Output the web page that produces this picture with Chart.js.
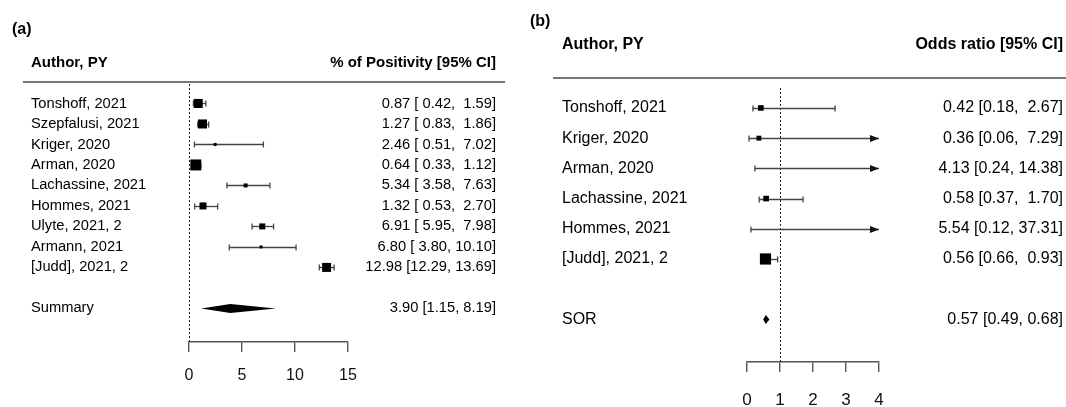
<!DOCTYPE html>
<html>
<head>
<meta charset="utf-8">
<script src="https://cdn.jsdelivr.net/npm/chart.js@4.4.1/dist/chart.umd.min.js"></script>
<style>
  html, body { margin: 0; padding: 0; background: #fff; }
  #wrap { position: relative; width: 1066px; height: 407px; }
  canvas { position: absolute; top: 0; }
</style>
</head>
<body>
<div id="wrap">
  <canvas id="chartA" width="520" height="407" style="left:0px"></canvas>
  <canvas id="chartB" width="536" height="407" style="left:530px"></canvas>
</div>
<script>
// ---- panel (a): % of positivity ----
const studiesA = ['Tonshoff, 2021', 'Szepfalusi, 2021', 'Kriger, 2020', 'Arman, 2020', 'Lachassine, 2021',
                  'Hommes, 2021', 'Ulyte, 2021, 2', 'Armann, 2021', '[Judd], 2021, 2'];
const estA  = [0.87, 1.27, 2.46, 0.64, 5.34, 1.32, 6.91, 6.80, 12.98];
const lowA  = [0.42, 0.83, 0.51, 0.33, 3.58, 0.53, 5.95, 3.80, 12.29];
const highA = [1.59, 1.86, 7.02, 1.12, 7.63, 2.70, 7.98, 10.10, 13.69];
const weightsA = [12.9, 12.9, 4.3, 15.7, 5.7, 10.0, 8.6, 4.3, 12.9];   // relative study weight (box size)
const summaryA = { label: 'Summary', est: 3.90, lo: 1.15, hi: 8.19 };
const ticksA = [0, 5, 10, 15];

// ---- panel (b): odds ratio ----
const studiesB = ['Tonshoff, 2021', 'Kriger, 2020', 'Arman, 2020', 'Lachassine, 2021', 'Hommes, 2021', '[Judd], 2021, 2'];
const estB  = [0.42, 0.36, 4.13, 0.58, 5.54, 0.56];
const lowB  = [0.18, 0.06, 0.24, 0.37, 0.12, 0.66];
const highB = [2.67, 7.29, 14.38, 1.70, 37.31, 0.93];
const weightsB = [8.0, 7.0, 3.0, 8.0, 3.0, 16.0];
const summaryB = { label: 'SOR', est: 0.57, lo: 0.49, hi: 0.68 };
const ticksB = [0, 1, 2, 3, 4];

const FONT = "'Liberation Sans', Arial, sans-serif";

function ciText(e, l, h, wl, wh) {
  return e.toFixed(2) + ' [' + l.toFixed(2).padStart(wl) + ', ' + h.toFixed(2).padStart(wh) + ']';
}

const forestPlugin = {
  id: 'forest',
  beforeDatasetsDraw(chart, args, o) {
    const ctx = chart.ctx, x = chart.scales.x, y = chart.scales.y, area = chart.chartArea;
    ctx.save();
    // reference line
    ctx.strokeStyle = '#222';
    ctx.lineWidth = 1;
    ctx.setLineDash([2, 2]);
    const rx = Math.round(x.getPixelForValue(o.ref)) + 0.5;
    ctx.beginPath(); ctx.moveTo(rx, area.top); ctx.lineTo(rx, area.bottom); ctx.stroke();
    ctx.setLineDash([]);
    // confidence intervals
    ctx.strokeStyle = '#444';
    ctx.fillStyle = '#111';
    ctx.lineWidth = 1.3;
    o.low.forEach((l, i) => {
      const h = o.high[i];
      const py = Math.round(y.getPixelForValue(i)) + 0.5;
      const x1 = x.getPixelForValue(Math.max(l, x.min));
      const x2 = x.getPixelForValue(Math.min(h, x.max));
      ctx.beginPath(); ctx.moveTo(x1, py); ctx.lineTo(x2, py); ctx.stroke();
      ctx.beginPath(); ctx.moveTo(x1, py - 3); ctx.lineTo(x1, py + 3); ctx.stroke();
      if (h > x.max) {
        ctx.beginPath();
        ctx.moveTo(x2 - 9, py - 3.5); ctx.lineTo(x2, py); ctx.lineTo(x2 - 9, py + 3.5);
        ctx.closePath(); ctx.fill();
      } else {
        ctx.beginPath(); ctx.moveTo(x2, py - 3); ctx.lineTo(x2, py + 3); ctx.stroke();
      }
    });
    // summary diamond
    const s = o.summary, sy = y.getPixelForValue(o.summaryRow);
    ctx.fillStyle = '#000';
    ctx.beginPath();
    ctx.moveTo(x.getPixelForValue(s.lo), sy);
    ctx.lineTo(x.getPixelForValue(s.est), sy - o.diamondH);
    ctx.lineTo(x.getPixelForValue(s.hi), sy);
    ctx.lineTo(x.getPixelForValue(s.est), sy + o.diamondH);
    ctx.closePath(); ctx.fill();
    ctx.restore();
  },
  afterDraw(chart, args, o) {
    const ctx = chart.ctx, y = chart.scales.y;
    ctx.save();
    ctx.fillStyle = '#000';
    ctx.textBaseline = 'middle';
    // panel tag
    ctx.font = 'bold 16px ' + FONT;
    ctx.textAlign = 'left';
    ctx.fillText(o.tag, o.tagX, o.tagY);
    // headers
    ctx.font = 'bold ' + o.headSize + 'px ' + FONT;
    ctx.fillText('Author, PY', o.labelX, o.headY);
    ctx.textAlign = 'right';
    ctx.fillText(o.valueHead, o.valueX, o.headY);
    ctx.strokeStyle = '#777';
    ctx.lineWidth = 2;
    ctx.beginPath(); ctx.moveTo(o.ruleX[0], o.ruleY); ctx.lineTo(o.ruleX[1], o.ruleY); ctx.stroke();
    // rows
    ctx.font = o.fontSize + 'px ' + FONT;
    const wl = Math.max(...o.low.map(v => v.toFixed(2).length));
    const wh = Math.max(...o.high.map(v => v.toFixed(2).length));
    o.studies.forEach((name, i) => {
      const py = y.getPixelForValue(i);
      ctx.textAlign = 'left';
      ctx.fillText(name, o.labelX, py);
      ctx.textAlign = 'right';
      ctx.fillText(ciText(o.est[i], o.low[i], o.high[i], wl, wh), o.valueX, py);
    });
    const s = o.summary, sy = y.getPixelForValue(o.summaryRow);
    ctx.textAlign = 'left';
    ctx.fillText(s.label, o.labelX, sy);
    ctx.textAlign = 'right';
    ctx.fillText(ciText(s.est, s.lo, s.hi, 4, 4), o.valueX, sy);
    ctx.restore();
  }
};

function makeForest(id, p) {
  const W = document.getElementById(id).width;
  return new Chart(document.getElementById(id), {
    type: 'scatter',
    data: {
      datasets: [{
        data: p.est.map((v, i) => ({ x: v, y: i })),
        pointStyle: 'rect',
        pointRadius: p.weights.map(w => w * p.boxScale / Math.SQRT2),
        backgroundColor: '#000',
        borderWidth: 0,
        clip: 0
      }]
    },
    options: {
      responsive: false,
      animation: false,
      events: [],
      devicePixelRatio: 1,
      layout: { padding: { left: p.axisLeft, right: W - p.axisRight, top: p.areaTop, bottom: 0 } },
      plugins: {
        legend: { display: false },
        tooltip: { enabled: false },
        forest: p
      },
      scales: {
        x: {
          type: 'linear',
          min: p.ticks[0],
          max: p.ticks[p.ticks.length - 1],
          afterBuildTicks: s => { s.ticks = p.ticks.map(v => ({ value: v })); },
          afterFit: s => { s.height = 407 - p.areaBottom; },
          grid: { drawOnChartArea: false, tickLength: 10, color: '#555', lineWidth: 1.4 },
          border: { color: '#555', width: 1.4 },
          ticks: { color: '#111', font: { family: FONT, size: p.tickSize }, padding: p.tickPad, maxRotation: 0 }
        },
        y: {
          type: 'linear',
          display: false,
          reverse: true,
          min: p.rowMin,
          max: p.rowMax
        }
      }
    },
    plugins: [forestPlugin]
  });
}

makeForest('chartA', {
  studies: studiesA, est: estA, low: lowA, high: highA, weights: weightsA, summary: summaryA, ticks: ticksA,
  ref: 0, summaryRow: 10, diamondH: 4.5, boxScale: 0.7,
  axisLeft: 189, axisRight: 348, areaTop: 84, areaBottom: 342,
  rowMin: -0.95, rowMax: 11.64,
  tickSize: 16, tickPad: 14, fontSize: 14.7, headSize: 15,
  tag: '(a)', tagX: 12, tagY: 30,
  labelX: 31, valueX: 496, headY: 63, valueHead: '% of Positivity [95% CI]',
  ruleX: [23, 505], ruleY: 82
});

makeForest('chartB', {
  studies: studiesB, est: estB, low: lowB, high: highB, weights: weightsB, summary: summaryB, ticks: ticksB,
  ref: 1, summaryRow: 7, diamondH: 4.5, boxScale: 0.7,
  axisLeft: 217, axisRight: 349, areaTop: 88, areaBottom: 362,
  rowMin: -0.66, rowMax: 8.41,
  tickSize: 17, tickPad: 18, fontSize: 16, headSize: 16,
  tag: '(b)', tagX: 0, tagY: 22,
  labelX: 32, valueX: 533, headY: 45, valueHead: 'Odds ratio [95% CI]',
  ruleX: [23, 536], ruleY: 78
});
</script>
</body>
</html>
